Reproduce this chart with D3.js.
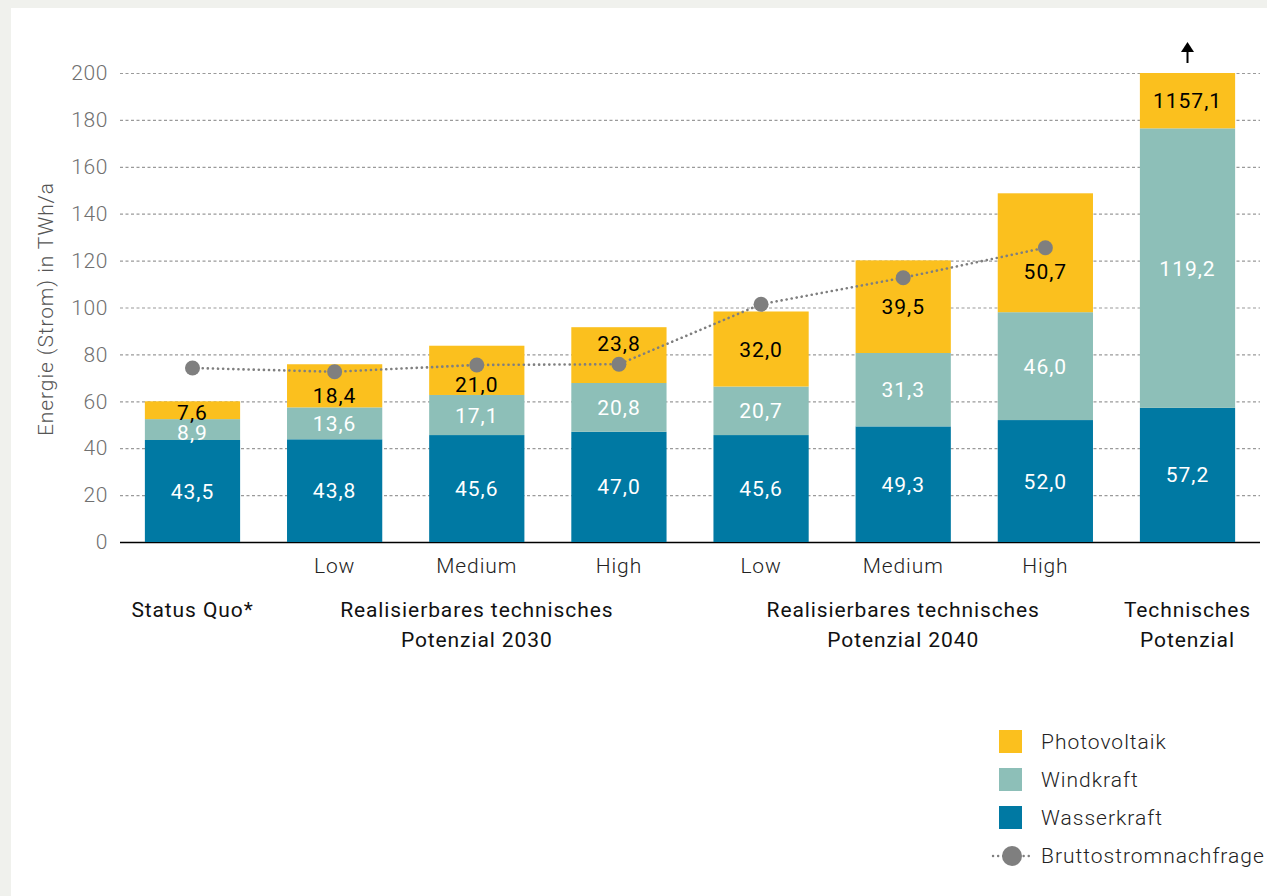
<!DOCTYPE html>
<html>
<head>
<meta charset="utf-8">
<script src="https://cdn.jsdelivr.net/npm/d3@7"></script>
<style>
  body { margin: 0; background: #f0f1ed; }
  svg { display: block; font-family: Roboto, "DejaVu Sans", sans-serif; }
</style>
</head>
<body>
<div id="chart"></div>
<script>
// Data
const categories = ['sq', 'l30', 'm30', 'h30', 'l40', 'm40', 'h40', 'tp'];
const subLabels = ['', 'Low', 'Medium', 'High', 'Low', 'Medium', 'High', ''];
const groupLabels = [['Status Quo*'], ['Realisierbares technisches', 'Potenzial 2030'], ['Realisierbares technisches', 'Potenzial 2040'], ['Technisches', 'Potenzial']];
const groupSpans = [[0, 0], [1, 3], [4, 6], [7, 7]];
const wasserkraft = [43.5, 43.8, 45.6, 47.0, 45.6, 49.3, 52.0, 57.2];
const windkraft = [8.9, 13.6, 17.1, 20.8, 20.7, 31.3, 46.0, 119.2];
const photovoltaik = [7.6, 18.4, 21.0, 23.8, 32.0, 39.5, 50.7, 1157.1];
const nachfrage = [74.2, 72.6, 75.5, 75.8, 101.4, 112.7, 125.5, null];
const yTicks = [0, 20, 40, 60, 80, 100, 120, 140, 160, 180, 200];
const seriesNames = ['Photovoltaik', 'Windkraft', 'Wasserkraft'];
const seriesColors = ['#fbc01e', '#8dbfb8', '#0079a3'];

const W = 1267, H = 896;
const svg = d3.select('#chart').append('svg').attr('width', W).attr('height', H);

// white panel
svg.append('rect').attr('x', 11).attr('y', 8).attr('width', W - 11).attr('height', H - 8).attr('fill', '#fff');

const x = d3.scaleBand().domain(categories).range([120, 1260]).paddingInner(0.33).paddingOuter(0.175);
const y = d3.scaleLinear().domain([0, 200]).range([542, 73]).clamp(true);

const de = d3.formatLocale({decimal: ',', thousands: '.', grouping: [3], currency: ['', '€']});
const fmt = de.format('.1f');

// y axis + grid
const yAxis = d3.axisLeft(y).tickValues(yTicks).tickSize(-(1260 - 120)).tickPadding(12).tickFormat(d3.format('d'));
const gy = svg.append('g').attr('transform', 'translate(120,0)').call(yAxis);
gy.select('.domain').remove();
gy.selectAll('.tick line').attr('stroke', '#9a9a9a').attr('stroke-width', 1.2).attr('stroke-dasharray', '3,2.5');
gy.selectAll('.tick').filter(d => d === 0).select('line').attr('stroke', '#000').attr('stroke-dasharray', null).attr('stroke-width', 1.5);
gy.selectAll('.tick text').attr('font-size', 21).attr('fill', '#707070').attr('font-weight', 300)
  .attr('font-family', 'Roboto').attr('letter-spacing', 0.6);

svg.append('text')
  .attr('transform', 'translate(46,309) rotate(-90)')
  .attr('text-anchor', 'middle').attr('dy', '0.35em')
  .attr('font-size', 21).attr('font-weight', 300).attr('fill', '#555').attr('letter-spacing', 0.9)
  .text('Energie (Strom) in TWh/a');

// stacked bars
const rows = categories.map((c, i) => ({cat: c, Wasserkraft: wasserkraft[i], Windkraft: windkraft[i], Photovoltaik: photovoltaik[i]}));
const stack = d3.stack().keys(['Wasserkraft', 'Windkraft', 'Photovoltaik'])(rows);
const color = d3.scaleOrdinal().domain(seriesNames).range(seriesColors);

stack.forEach(layer => {
  svg.append('g').selectAll('rect').data(layer).join('rect')
    .attr('x', d => x(d.data.cat))
    .attr('width', x.bandwidth())
    .attr('y', d => y(d[1]))
    .attr('height', d => y(d[0]) - y(d[1]))
    .attr('fill', color(layer.key));
});

// demand line
const demand = categories.map((c, i) => ({cat: c, v: nachfrage[i]})).filter(d => d.v != null);
const cx = d => x(d.cat) + x.bandwidth() / 2;
svg.append('path').datum(demand)
  .attr('d', d3.line().x(cx).y(d => y(d.v)))
  .attr('fill', 'none').attr('stroke', '#7f7f7f').attr('stroke-width', 2.6)
  .attr('stroke-linecap', 'round').attr('stroke-dasharray', '0.1,5');
svg.append('g').selectAll('circle').data(demand).join('circle')
  .attr('cx', cx).attr('cy', d => y(d.v)).attr('r', 7.5).attr('fill', '#7f7f7f');

// segment labels
stack.forEach(layer => {
  svg.append('g').selectAll('text').data(layer).join('text')
    .attr('x', d => x(d.data.cat) + x.bandwidth() / 2)
    .attr('y', (d, i) => {
      const top = y(d[1]), bot = y(d[0]);
      let c = (top + bot) / 2;
      if (layer.key === 'Photovoltaik' && nachfrage[i] != null) {
        const dy = y(nachfrage[i]);
        if (Math.abs(dy - c) < 20) c = dy + (c < dy ? -21 : 24);
        c = Math.max(top + 11, Math.min(bot - 11, c));
      }
      // thin wind segment: label sits a little lower, as in the original
      if (layer.key === 'Windkraft' && bot - top < 25) c += 3;
      return c;
    })
    .attr('dy', '0.36em')
    .attr('text-anchor', 'middle')
    .attr('font-size', 21).attr('letter-spacing', 1)
    .attr('fill', layer.key === 'Photovoltaik' ? '#000' : '#fff')
    .text(d => fmt(d.data[layer.key]));
});

// arrow for bars beyond the axis
categories.forEach((c, i) => {
  const total = wasserkraft[i] + windkraft[i] + photovoltaik[i];
  if (total > y.domain()[1]) {
    const ax = x(c) + x.bandwidth() / 2, ay = y(y.domain()[1]);
    svg.append('line').attr('x1', ax).attr('x2', ax).attr('y1', ay - 10).attr('y2', ay - 24)
      .attr('stroke', '#000').attr('stroke-width', 2);
    svg.append('path').attr('d', `M${ax - 6.5},${ay - 21}L${ax},${ay - 31}L${ax + 6.5},${ay - 21}Z`).attr('fill', '#000');
  }
});

// category labels
svg.append('g').selectAll('text').data(categories).join('text')
  .attr('x', d => x(d) + x.bandwidth() / 2).attr('y', 566).attr('dy', '0.35em')
  .attr('text-anchor', 'middle').attr('font-size', 21).attr('font-weight', 300).attr('fill', '#222')
  .attr('letter-spacing', 0.9)
  .text((d, i) => subLabels[i]);

groupLabels.forEach((lines, gi) => {
  const [a, b] = groupSpans[gi];
  const gx = (x(categories[a]) + x(categories[b]) + x.bandwidth()) / 2;
  lines.forEach((t, li) => {
    svg.append('text').attr('x', gx).attr('y', 610 + li * 30).attr('dy', '0.35em')
      .attr('text-anchor', 'middle').attr('font-size', 21).attr('fill', '#111').attr('letter-spacing', 0.9)
      .text(t);
  });
});

// legend
const lg = svg.append('g').attr('transform', 'translate(999,730)');
seriesNames.forEach((s, i) => {
  lg.append('rect').attr('x', 0).attr('y', i * 38).attr('width', 23).attr('height', 23).attr('fill', color(s));
  lg.append('text').attr('x', 42).attr('y', i * 38 + 11.5).attr('dy', '0.35em')
    .attr('font-size', 21).attr('font-weight', 300).attr('fill', '#222').attr('letter-spacing', 1).text(s);
});
lg.append('line').attr('x1', -6).attr('x2', 34).attr('y1', 126).attr('y2', 126)
  .attr('stroke', '#7f7f7f').attr('stroke-width', 2.4).attr('stroke-linecap', 'round').attr('stroke-dasharray', '0.1,5');
lg.append('circle').attr('cx', 13).attr('cy', 126).attr('r', 10).attr('fill', '#7f7f7f');
lg.append('text').attr('x', 42).attr('y', 126).attr('dy', '0.35em')
  .attr('font-size', 21).attr('font-weight', 300).attr('fill', '#222').attr('letter-spacing', 1).text('Bruttostromnachfrage');
</script>
</body>
</html>
